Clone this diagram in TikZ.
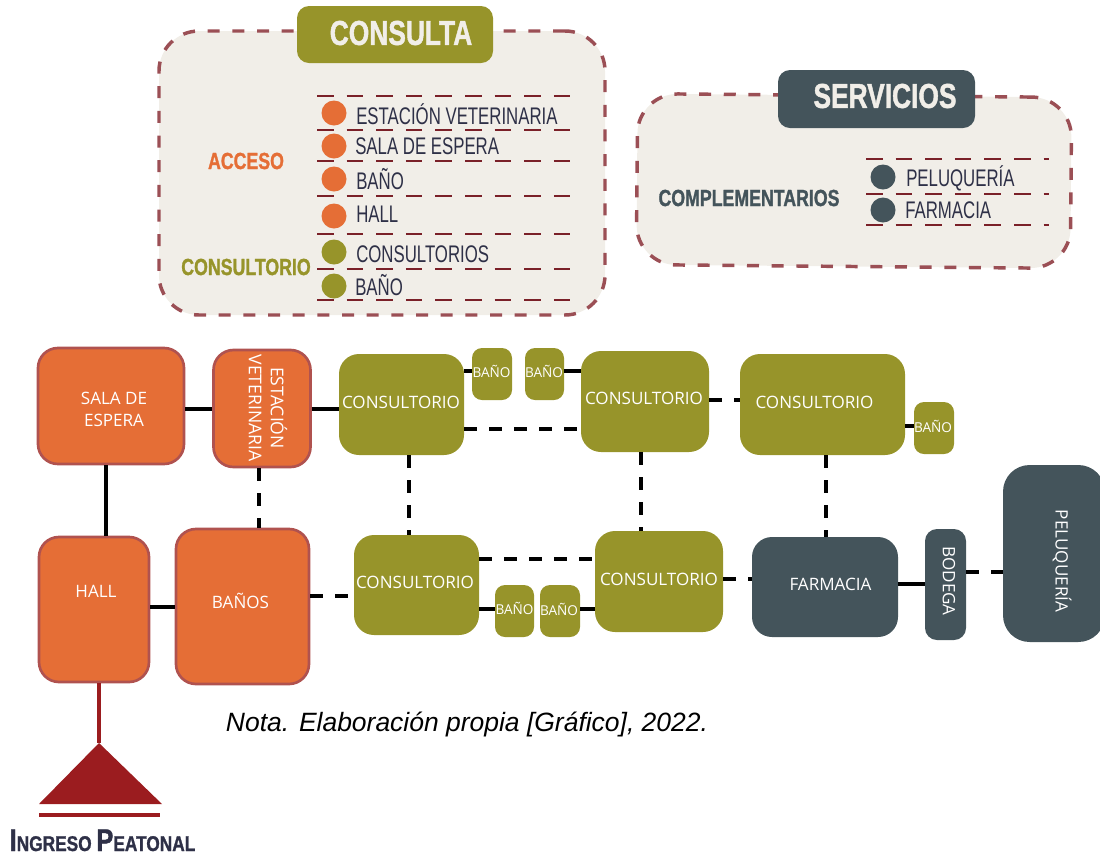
\documentclass[tikz,border=0pt]{standalone}
\usepackage{fontspec}
\setmainfont{Open Sans}
\newfontfamily\narrowfont[FakeStretch=0.70]{Liberation Sans}
\newfontfamily\boldnarrow[FakeStretch=0.76,BoldFeatures={FakeBold=1.2}]{Liberation Sans}
\newfontfamily\widenarrow[FakeStretch=0.81,BoldFeatures={FakeBold=1.2}]{Liberation Sans}
\newfontfamily\notafont{Liberation Sans}
\definecolor{orange_fill}{HTML}{E56E36}
\definecolor{orange_edge}{HTML}{B0524F}
\definecolor{olive_fill}{HTML}{97942A}
\definecolor{slate_fill}{HTML}{44545B}
\definecolor{panel_fill}{HTML}{F1EEE8}
\definecolor{panel_edge}{HTML}{9B4F55}
\definecolor{list_line}{HTML}{7A2028}
\definecolor{ink_dark}{HTML}{2E3047}
\definecolor{entry_red}{HTML}{9B1C1F}

\begin{document}
\begin{tikzpicture}[x=0.75pt,y=-0.75pt]
    \tikzset{
      size/.style 2 args={minimum width=#1*0.75pt,minimum height=#2*0.75pt},
      room/.style={rectangle,inner sep=0pt,rounded corners=15pt},
      smallroom/.style={room,fill=olive_fill,rounded corners=7.5pt},
      accessroom/.style={room,fill=orange_fill,draw=orange_edge,line width=2pt},
      consultroom/.style={room,fill=olive_fill},
      serviceroom/.style={room,fill=slate_fill},
      roomtext/.style={text=white,font=\fontsize{12.8}{17}\selectfont,align=center,inner sep=0pt},
      smalltext/.style={text=white,font=\fontsize{10.2}{12}\selectfont,inner sep=0pt},
      panel/.style={rectangle,inner sep=0pt,rounded corners=30pt,fill=panel_fill,draw=panel_edge,line width=2.6pt,dash pattern=on 9pt off 9.5pt},
      tab/.style={rectangle,inner sep=0pt,rounded corners=9pt},
      tabtext/.style={text=panel_fill,font=\boldnarrow\bfseries\fontsize{26}{28}\selectfont,inner sep=0pt},
      grouptext/.style={font=\boldnarrow\bfseries\fontsize{17.5}{20}\selectfont,inner sep=0pt},
      entrytext/.style={anchor=west,text=ink_dark,font=\narrowfont\fontsize{18}{20}\selectfont,inner sep=0pt},
      dot/.style={circle,inner sep=0pt,minimum size=18.75pt},
      listline/.style={list_line,line width=2pt,dash pattern=on 12.4pt off 9.8pt},
      link/.style={black,line width=3pt},
      dashlink/.style={link,dash pattern=on 9.75pt off 9pt}
    }
    \useasboundingbox (0,0) rectangle (1100,858);

    % consulta panel
    \node[panel,size={446}{284}] (consulta) at (382,173) {};
    \node[tab,fill=olive_fill,size={196}{57}] (consulta_tab) at (395,34.5) {};
    \node[tabtext] (consulta_txt) at (401,33) {CONSULTA};
    \foreach \y in {96,130,161,196,234,269,300}
      \draw[listline] (317,\y) -- (571,\y);
    \node[dot,fill=orange_fill] (d1) at (334,113) {};
    \node[dot,fill=orange_fill] (d2) at (334,146) {};
    \node[dot,fill=orange_fill] (d3) at (334,179) {};
    \node[dot,fill=orange_fill] (d4) at (334,216) {};
    \node[dot,fill=olive_fill] (d5) at (334,252) {};
    \node[dot,fill=olive_fill] (d6) at (334,286) {};
    \node[entrytext] (e1) at (356,114) {ESTACIÓN VETERINARIA};
    \node[entrytext] (e2) at (355,146) {SALA DE ESPERA};
    \node[entrytext] (e3) at (356,179) {BAÑO};
    \node[entrytext] (e4) at (356,214) {HALL};
    \node[entrytext] (e5) at (356,254) {CONSULTORIOS};
    \node[entrytext] (e6) at (355,285) {BAÑO};
    \node[grouptext,text=orange_fill] (acceso) at (246,161) {ACCESO};
    \node[grouptext,text=olive_fill] (consultorio) at (246,267) {CONSULTORIO};

    % servicios panel
    \node[panel,rotate=-0.5,size={434}{171}] (servicios) at (854,181) {};
    \node[tab,fill=slate_fill,size={197}{58}] (servicios_tab) at (876.5,99) {};
    \node[tabtext] (servicios_txt) at (885,96) {SERVICIOS};
    \foreach \y in {159,194,225}
      \draw[listline] (866,\y) -- (1049,\y);
    \node[dot,fill=slate_fill] (d7) at (883,177) {};
    \node[dot,fill=slate_fill] (d8) at (883,210) {};
    \node[entrytext] (e7) at (906,178) {PELUQUERÍA};
    \node[entrytext] (e8) at (905,210) {FARMACIA};
    \node[grouptext,text=slate_fill] (complementarios) at (749,198) {COMPLEMENTARIOS};

    % rooms
    \node[accessroom,size={146}{116}] (sala) at (111,406) {};
    \node[roomtext] (sala_txt) at (114,409.5) {SALA DE\\ESPERA};
    \node[accessroom,size={97}{117}] (estacion) at (262,408.5) {};
    \node[roomtext,rotate=-90,font=\fontsize{13.2}{16.5}\selectfont] (estacion_txt) at (268,408) {ESTACIÓN\\VETERINARIA};
    \node[accessroom,size={110}{145}] (hall) at (94,609.5) {};
    \node[roomtext] (hall_txt) at (96,591) {HALL};
    \node[accessroom,size={133}{155}] (banos) at (242.5,606.5) {};
    \node[roomtext] (banos_txt) at (240.5,601) {BAÑOS};

    \node[consultroom,size={125}{101}] (cons_a) at (401.5,404.5) {};
    \node[roomtext] (cons_a_txt) at (401,402) {CONSULTORIO};
    \node[consultroom,size={128}{101}] (cons_b) at (645,401.5) {};
    \node[roomtext] (cons_b_txt) at (644,398) {CONSULTORIO};
    \node[consultroom,size={165}{101}] (cons_c) at (822.5,404.5) {};
    \node[roomtext] (cons_c_txt) at (814.5,402) {CONSULTORIO};
    \node[consultroom,size={125}{100}] (cons_d) at (416.5,585) {};
    \node[roomtext] (cons_d_txt) at (415,582) {CONSULTORIO};
    \node[consultroom,size={128}{101}] (cons_e) at (659,581.5) {};
    \node[roomtext] (cons_e_txt) at (659,579) {CONSULTORIO};

    \node[smallroom,size={40}{52}] (bano_a) at (492,374) {};
    \node[smalltext] (bano_a_txt) at (491.5,371.5) {BAÑO};
    \node[smallroom,size={39}{52}] (bano_b) at (544.5,374) {};
    \node[smalltext] (bano_b_txt) at (544,371.5) {BAÑO};
    \node[smallroom,size={39}{52}] (bano_c) at (514.5,611) {};
    \node[smalltext] (bano_c_txt) at (514.5,608) {BAÑO};
    \node[smallroom,size={40}{52}] (bano_d) at (560,611) {};
    \node[smalltext] (bano_d_txt) at (559,609) {BAÑO};
    \node[smallroom,size={40}{52}] (bano_e) at (934,428) {};
    \node[smalltext] (bano_e_txt) at (933,426) {BAÑO};

    \node[serviceroom,size={146}{100}] (farmacia) at (825,587) {};
    \node[roomtext] (farmacia_txt) at (830.5,584) {FARMACIA};
    \node[serviceroom,rounded corners=9pt,size={41}{111}] (bodega) at (945.5,584.5) {};
    \node[roomtext,rotate=-90] (bodega_txt) at (949,581) {BODEGA};
    \node[serviceroom,rounded corners=20pt,size={102}{177}] (peluqueria) at (1054,553.5) {};
    \node[roomtext,rotate=-90] (peluqueria_txt) at (1062,561) {PELUQUERÍA};

    % connections
    \draw[link] (sala.east |- 0,409) -- (estacion.west |- 0,409);
    \draw[link] (estacion.east |- 0,409) -- (cons_a.west |- 0,409);
    \draw[link] (sala.south -| 106,0) -- (hall.north -| 106,0);
    \draw[link] (hall.east |- 0,607) -- (banos.west |- 0,607);
    \draw[dashlink] (estacion.south -| 259,0) -- (banos.north -| 259,0);
    \draw[dashlink] (banos.east |- 0,596) -- (cons_d.west |- 0,596);
    \draw[link] (cons_a.east |- 0,371) -- (bano_a.west |- 0,371);
    \draw[link] (bano_b.east |- 0,371) -- (cons_b.west |- 0,371);
    \draw[dashlink] (cons_a.east |- 0,429) -- (cons_b.west |- 0,429);
    \draw[dashlink] (cons_b.east |- 0,400) -- (cons_c.west |- 0,400);
    \draw[link] (cons_c.east |- 0,426) -- (bano_e.west |- 0,426);
    \draw[dashlink] (cons_a.south -| 409,0) -- (cons_d.north -| 409,0);
    \draw[dashlink] (cons_b.south -| 641,0) -- (cons_e.north -| 641,0);
    \draw[dashlink] (cons_c.south -| 826,0) -- (farmacia.north -| 826,0);
    \draw[dashlink] (cons_d.east |- 0,559) -- (cons_e.west |- 0,559);
    \draw[link] (cons_d.east |- 0,609) -- (bano_c.west |- 0,609);
    \draw[link] (bano_d.east |- 0,609) -- (cons_e.west |- 0,609);
    \draw[dashlink] (cons_e.east |- 0,579) -- (farmacia.west |- 0,579);
    \draw[link] (farmacia.east |- 0,584) -- (bodega.west |- 0,584);
    \draw[dashlink] (bodega.east |- 0,572) -- (peluqueria.west |- 0,572);

    % entrance
    \coordinate (apex) at (99,743);
    \draw[entry_red,line width=3pt] (hall.south -| apex) -- (apex);
    \fill[entry_red] (apex) -- (162,804) -- (39,804) -- cycle;
    \fill[entry_red] (39,813) rectangle (159.5,817);
    \node[anchor=base,text=ink_dark,font=\widenarrow\bfseries\fontsize{16}{18}\selectfont,inner sep=0pt] (ingreso) at (102.5,851) {{\fontsize{23.5}{25}\selectfont I}NGRESO {\fontsize{23.5}{25}\selectfont P}EATONAL};
    \node[font=\notafont\itshape\fontsize{19.85}{22}\selectfont,inner sep=0pt] (nota) at (467,724) {Nota. Elaboración propia [Gráfico], 2022.};
\end{tikzpicture}
\end{document}
